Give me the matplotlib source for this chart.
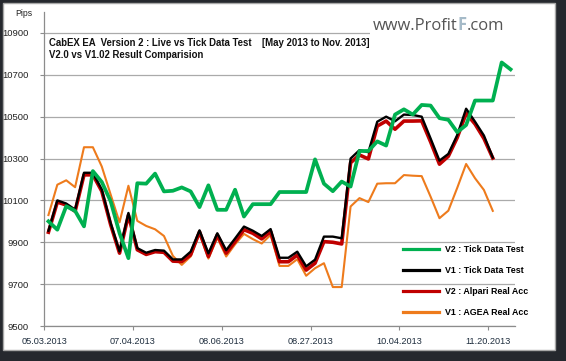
import numpy as np
import matplotlib
matplotlib.use('Agg')
import matplotlib.pyplot as plt
from matplotlib.patches import Rectangle
from matplotlib.text import Annotation

plt.rcParams['font.family'] = 'Liberation Sans'

# x axis labels (every 10th trade day)
date_labels = ['05.03.2013', '07.04.2013', '08.06.2013', '08.27.2013', '10.04.2013', '11.20.2013']

# balance in pips
v2_tick = [10000, 9960, 10072, 10050, 9976, 10240, 10188, 10096, 9944, 9824,
           10182, 10180, 10228, 10143, 10146, 10162, 10143, 10068, 10172, 10055,
           10055, 10151, 10023, 10082, 10082, 10082, 10140, 10140, 10140, 10140,
           10296, 10180, 10144, 10190, 10166, 10336, 10336, 10382, 10362, 10510,
           10535, 10510, 10556, 10553, 10493, 10485, 10426, 10460, 10577, 10577,
           10577, 10759, 10726]
v1_tick = [9955, 10100, 10085, 10056, 10232, 10232, 10152, 9992, 9856, 10040,
           9872, 9850, 9863, 9860, 9818, 9818, 9855, 9957, 9847, 9943,
           9862, 9918, 9975, 9955, 9930, 9963, 9826, 9826, 9855, 9785,
           9817, 9927, 9927, 9919, 10300, 10340, 10330, 10476, 10500, 10478,
           10510, 10508, 10500, 10396, 10290, 10322, 10412, 10538, 10476, 10410,
           10305]
v2_alpari = [9948, 10092, 10078, 10048, 10222, 10222, 10144, 9984, 9848, 10030,
             9864, 9842, 9855, 9852, 9810, 9808, 9840, 9950, 9832, 9935,
             9848, 9903, 9960, 9943, 9916, 9951, 9807, 9807, 9839, 9767,
             9800, 9903, 9900, 9892, 10280, 10317, 10298, 10455, 10479, 10440,
             10479, 10479, 10480, 10380, 10273, 10311, 10400, 10516, 10465, 10396,
             10302]
v1_agea = [10030, 10175, 10196, 10163, 10354, 10354, 10262, 10128, 9995, 10170,
           10002, 9978, 9962, 9930, 9835, 9792, 9832, 9943, 9822, 9922,
           9832, 9890, 9940, 9915, 9894, 9935, 9787, 9787, 9819, 9740,
           9776, 9800, 9686, 9686, 10071, 10111, 10092, 10180, 10182, 10182,
           10221, 10218, 10216, 10118, 10015, 10051, 10160, 10274, 10206, 10150,
           10050]

W, H = 566, 361
fig = plt.figure(figsize=(W / 100, H / 100), dpi=100, facecolor='#25282e')
# white chart panel inside the dark screenshot frame
fig.patches.append(Rectangle((3 / W, 11 / H), 552 / W, 347 / H, transform=fig.transFigure,
                             facecolor='white', edgecolor='#a8a8a8', lw=1, zorder=-1))

ax = fig.add_axes([44 / W, 35 / H, 471 / W, 314 / H])
ax.set_facecolor('white')

l4, = ax.plot(np.arange(len(v1_agea)), v1_agea, color='#ee7b1c', lw=1.5, zorder=2, label='V1 : AGEA Real Acc')
l3, = ax.plot(np.arange(len(v2_alpari)), v2_alpari, color='#c00000', lw=2.6, zorder=3, label='V2 : Alpari Real Acc')
l2, = ax.plot(np.arange(len(v1_tick)), v1_tick, color='black', lw=1.7, zorder=4, label='V1 : Tick Data Test')
l1, = ax.plot(np.arange(len(v2_tick)), v2_tick, color='#00b050', lw=2.7, zorder=5, label='V2 : Tick Data Test')

ax.set_xlim(-0.5, 52.5)
ax.set_ylim(9500, 11000)
ax.set_yticks(np.arange(9500, 10901, 200))
ax.set_xticks(np.arange(-0.5, 50, 10))
ax.set_xticklabels(date_labels)
ax.yaxis.grid(True, color='#aaaaaa', lw=0.9)
ax.set_axisbelow(True)

for s in ['top', 'right']:
    ax.spines[s].set_visible(False)
for s in ['left', 'bottom']:
    ax.spines[s].set_color('#8c8c8c')
    ax.spines[s].set_linewidth(0.9)

ax.tick_params(axis='y', length=3, width=0.8, color='#8c8c8c', labelsize=6.8, pad=8, labelcolor='#222222')
ax.tick_params(axis='x', length=3, width=0.8, color='#8c8c8c', labelsize=6.6, pad=5, labelcolor='#1f2e3e')

fig.text(24 / W, 1 - 14 / H, 'Pips', fontsize=6.2, ha='center', va='center', color='#222222')

fig.text(49 / W, 1 - 43.5 / H, 'CabEX EA  Version 2 : Live vs Tick Data Test    [May 2013 to Nov. 2013]',
         fontsize=6.9, fontweight='bold', va='center', ha='left', color='#111111')
fig.text(49 / W, 1 - 55.5 / H, 'V2.0 vs V1.02 Result Comparision',
         fontsize=6.9, fontweight='bold', va='center', ha='left', color='#111111')

leg = ax.legend(handles=[l1, l2, l3, l4], loc='upper left', bbox_to_anchor=(403 / W, 1 - 245 / H),
                bbox_transform=fig.transFigure, frameon=False, borderpad=0, borderaxespad=0,
                handlelength=4.0, handletextpad=0.7, labelspacing=1.35,
                prop={'size': 6.4, 'weight': 'bold'})
for h in leg.legend_handles:
    h.set_linewidth(2.3)

# watermark
fig.add_artist(Rectangle((370 / W, 1 - 37 / H), 150 / W, 24 / H, transform=fig.transFigure,
                         facecolor='white', edgecolor='none', zorder=5))
t1 = fig.text(373 / W, 1 - 30.5 / H, 'www.Profit', fontsize=11.9, family='Open Sans',
              color='#555555', va='baseline', ha='left', zorder=6)
t2 = Annotation('F', xy=(1, 0), xycoords=t1, va='bottom', ha='left', fontsize=11.9,
                family='Open Sans', fontweight='bold', color='#a5bac8', zorder=6)
fig.add_artist(t2)
t3 = Annotation('.com', xy=(1, 0), xycoords=t2, va='bottom', ha='left', fontsize=11.9,
                family='Open Sans', color='#555555', zorder=6)
fig.add_artist(t3)

fig.savefig('out.png', dpi=100, facecolor=fig.get_facecolor())
